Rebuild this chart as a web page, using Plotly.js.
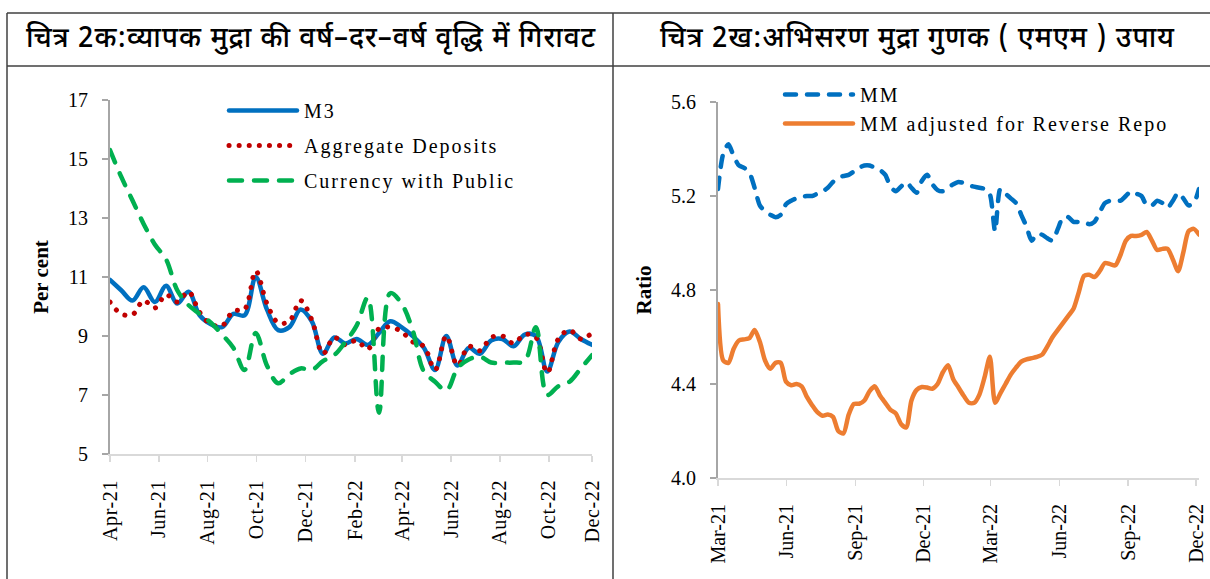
<!DOCTYPE html>
<html>
<head>
<meta charset="utf-8">
<script src="https://cdn.plot.ly/plotly-3.0.1.min.js"></script>
<style>
html,body{margin:0;padding:0;background:#fff;}
#chart{width:1210px;height:579px;}
.legendtext{letter-spacing:2px;}
.xtick text{letter-spacing:0.6px;}
.annotation-text{letter-spacing:1px;}
</style>
</head>
<body>
<div id="chart"></div>
<script>
// ---------- DATA ----------
const titleLeft = "चित्र 2क:व्यापक मुद्रा की वर्ष–दर–वर्ष वृद्धि में गिरावट";
const titleRight = "चित्र 2ख:अभिसरण मुद्रा गुणक ( एमएम ) उपाय";

// Left chart: fortnightly, from 2021-04-09
const leftStart = "2021-04-09";
const m3 = [10.9,10.55,10.2,10.65,10.15,10.7,10.1,10.5,9.7,9.4,9.3,9.75,9.7,11.0,9.9,9.2,9.3,9.9,9.5,8.4,8.95,8.75,8.9,8.7,9.1,9.5,9.3,9.0,8.6,7.85,9.0,8.0,8.6,8.4,8.85,8.9,8.65,9.05,9.0,7.8,8.8,9.15,8.9,8.7];
const aggDeposits = [10.15,9.75,9.72,10.2,9.95,10.4,10.15,10.5,9.8,9.4,9.35,9.85,9.9,11.2,10.1,9.45,9.5,10.2,9.55,8.4,8.95,8.7,8.85,8.55,9.25,9.3,9.15,8.8,8.65,7.85,9.0,8.0,8.65,8.5,8.95,9.0,8.75,9.05,8.95,7.75,8.9,9.2,8.9,9.1];
const currency = [15.3,14.4,13.6,12.8,12.1,11.6,10.55,10.05,9.75,9.45,9.05,8.6,7.85,9.1,8.0,7.4,7.7,7.9,7.85,8.15,8.35,8.8,9.35,10.3,6.4,10.45,10.1,9.2,7.8,7.45,7.15,7.9,8.2,8.3,8.1,8.1,8.1,8.15,9.3,7.0,7.3,7.45,7.9,8.35];
const leftTickLabels = ["Apr-21","Jun-21","Aug-21","Oct-21","Dec-21","Feb-22","Apr-22","Jun-22","Aug-22","Oct-22","Dec-22"];

// Right chart: weekly, from 2021-03-26
const rightStart = "2021-03-26";
const mm = [5.23,5.38,5.42,5.37,5.33,5.32,5.30,5.235,5.16,5.135,5.12,5.11,5.12,5.165,5.18,5.19,5.197,5.20,5.20,5.21,
  5.22,5.235,5.26,5.28,5.285,5.29,5.305,5.32,5.33,5.33,5.32,5.31,5.29,5.24,5.22,5.24,5.26,5.235,5.214,5.265,
  5.29,5.25,5.225,5.22,5.235,5.25,5.26,5.255,5.245,5.24,5.235,5.23,5.207,5.05,5.23,5.21,5.19,5.17,5.12,5.07,
  5.01,5.04,5.035,5.02,5.01,5.06,5.11,5.11,5.09,5.09,5.09,5.08,5.09,5.13,5.17,5.18,5.18,5.18,5.20,5.22,
  5.21,5.2,5.16,5.16,5.18,5.17,5.15,5.18,5.214,5.19,5.16,5.17,5.23];
const mmAdj = [4.74,4.50,4.49,4.55,4.585,4.59,4.595,4.63,4.58,4.50,4.465,4.49,4.49,4.41,4.395,4.40,4.39,4.345,4.31,4.28,
  4.265,4.27,4.26,4.20,4.19,4.27,4.315,4.316,4.33,4.37,4.39,4.35,4.32,4.29,4.275,4.23,4.215,4.33,4.375,4.387,
  4.385,4.38,4.40,4.45,4.48,4.42,4.385,4.35,4.32,4.32,4.355,4.43,4.516,4.32,4.36,4.40,4.44,4.47,4.495,4.505,
  4.51,4.515,4.525,4.56,4.60,4.63,4.66,4.69,4.72,4.79,4.86,4.865,4.855,4.88,4.915,4.91,4.905,4.95,5.01,5.03,
  5.03,5.035,5.047,5.01,4.97,4.975,4.975,4.93,4.88,4.96,5.05,5.06,5.036];
const rightTickLabels = ["Mar-21","Jun-21","Sep-21","Dec-21","Mar-22","Jun-22","Sep-22","Dec-22"];

// ---------- helpers ----------
function iso(d){ return d.toISOString().slice(0,10); }
function datesFrom(start, n, stepDays){
  const out=[]; const s=new Date(start+"T00:00:00Z");
  for(let i=0;i<n;i++){ const d=new Date(s.getTime()+i*stepDays*86400000); out.push(iso(d)); }
  return out;
}
function monthTicks(start, count, stepMonths, maxDate){
  const out=[]; const s=new Date(start+"T00:00:00Z");
  for(let k=0;k<count;k++){
    const d=new Date(Date.UTC(s.getUTCFullYear(), s.getUTCMonth()+k*stepMonths, s.getUTCDate()));
    let v=iso(d); if(v>maxDate) v=maxDate; out.push(v);
  }
  return out;
}

const xL = datesFrom(leftStart, m3.length, 14);
const xR = datesFrom(rightStart, mm.length, 7);
const tickValsL = monthTicks(leftStart, leftTickLabels.length, 2, xL[xL.length-1]);
const tickValsR = monthTicks(rightStart, rightTickLabels.length, 3, xR[xR.length-1]);

const W=1210, H=579;
const px = v => v/W, py = v => 1 - v/H;
const serif = "Liberation Serif, Times New Roman, serif";
const hindi = "Noto Sans Devanagari, Lohit Devanagari, Mangal, Noto Sans, sans-serif";

const traces = [
  {x:xL, y:m3, name:"M3", type:"scatter", mode:"lines", xaxis:"x", yaxis:"y",
   line:{color:"#0070C0", width:4.5, shape:"spline", smoothing:1}, legendgroup:"a", legend:"legend"},
  {x:xL, y:aggDeposits, name:"Aggregate Deposits", type:"scatter", mode:"lines", xaxis:"x", yaxis:"y",
   line:{color:"#C00000", width:5, shape:"spline", smoothing:1, dash:"0.1px,10px"}, legendgroup:"b", legend:"legend"},
  {x:xL, y:currency, name:"Currency with Public", type:"scatter", mode:"lines", xaxis:"x", yaxis:"y",
   line:{color:"#00B050", width:4.5, shape:"spline", smoothing:1, dash:"13px,12px"}, legendgroup:"c", legend:"legend"},
  {x:xR, y:mm, name:"MM", type:"scatter", mode:"lines", xaxis:"x2", yaxis:"y2",
   line:{color:"#0070C0", width:4.5, shape:"spline", smoothing:0.7, dash:"11px,11px"}, legendgroup:"d", legend:"legend2"},
  {x:xR, y:mmAdj, name:"MM adjusted for Reverse Repo", type:"scatter", mode:"lines", xaxis:"x2", yaxis:"y2",
   line:{color:"#ED7D31", width:4.5, shape:"spline", smoothing:0.7}, legendgroup:"e", legend:"legend2"}
];

const tickFont = {family:serif, size:20, color:"#000"};
const frame = "#404040";

const layout = {
  width:W, height:H, margin:{l:0,r:0,t:0,b:0},
  paper_bgcolor:"#fff", plot_bgcolor:"rgba(0,0,0,0)",
  showlegend:true,
  xaxis:{domain:[px(110),px(592)], type:"date", range:[xL[0], xL[xL.length-1]],
    tickvals:tickValsL, ticktext:leftTickLabels, tickangle:-90, tickfont:tickFont,
    showgrid:false, zeroline:false, showline:true, linecolor:"#d9d9d9", linewidth:2,
    ticks:"outside", ticklen:6, tickcolor:"#d9d9d9", tickwidth:1.5, ticklabelstandoff:10, anchor:"y", automargin:false},
  yaxis:{domain:[py(454),py(100)], range:[5,17], dtick:2, tick0:5, tickfont:tickFont,
    showgrid:false, zeroline:false, showline:true, linecolor:"#a6a6a6", linewidth:2,
    ticks:"outside", ticklen:6, tickcolor:"#a6a6a6", tickwidth:1.5, ticklabelstandoff:10, anchor:"x", automargin:false,
    title:{text:"<b>Per cent</b>", font:{family:serif, size:21, color:"#000"}, standoff:14}},
  xaxis2:{domain:[px(718),px(1199)], type:"date", range:[xR[0], xR[xR.length-1]],
    tickvals:tickValsR, ticktext:rightTickLabels, tickangle:-90, tickfont:tickFont,
    showgrid:false, zeroline:false, showline:true, linecolor:"#d9d9d9", linewidth:2,
    ticks:"outside", ticklen:6, tickcolor:"#d9d9d9", tickwidth:1.5, ticklabelstandoff:10, anchor:"y2", automargin:false},
  yaxis2:{domain:[py(478),py(102)], range:[4.0,5.6], dtick:0.4, tick0:4.0, tickformat:".1f", tickfont:tickFont,
    showgrid:false, zeroline:false, showline:true, linecolor:"#a6a6a6", linewidth:2,
    ticks:"outside", ticklen:6, tickcolor:"#a6a6a6", tickwidth:1.5, ticklabelstandoff:10, anchor:"x2", automargin:false,
    title:{text:"<b>Ratio</b>", font:{family:serif, size:21, color:"#000"}, standoff:14}},
  legend:{x:px(264), y:py(91), xanchor:"left", yanchor:"top", bgcolor:"rgba(0,0,0,0)", borderwidth:0,
    font:{family:serif, size:20, color:"#000"}, tracegroupgap:6, traceorder:"grouped"},
  legend2:{x:px(820), y:py(75), xanchor:"left", yanchor:"top", bgcolor:"rgba(0,0,0,0)", borderwidth:0,
    font:{family:serif, size:20, color:"#000"}, tracegroupgap:0, traceorder:"grouped"},
  annotations:[
    {text:titleLeft, xref:"paper", yref:"paper", x:px(311), y:py(40), xanchor:"center", yanchor:"middle", showarrow:false,
     font:{family:hindi, size:28, color:"#000", weight:500}},
    {text:titleRight, xref:"paper", yref:"paper", x:px(917), y:py(40), xanchor:"center", yanchor:"middle", showarrow:false,
     font:{family:hindi, size:28, color:"#000", weight:500}}
  ],
  shapes:[
    {type:"line", xref:"paper", yref:"paper", x0:px(7), x1:px(1210), y0:py(13), y1:py(13), line:{color:frame, width:1.5}},
    {type:"line", xref:"paper", yref:"paper", x0:px(7), x1:px(1210), y0:py(66), y1:py(66), line:{color:frame, width:1.5}},
    {type:"line", xref:"paper", yref:"paper", x0:px(7), x1:px(7), y0:py(13), y1:py(579), line:{color:frame, width:1.5}},
    {type:"line", xref:"paper", yref:"paper", x0:px(613), x1:px(613), y0:py(13), y1:py(579), line:{color:frame, width:1.5}}
  ]
};

Plotly.newPlot("chart", traces, layout, {displayModeBar:false, staticPlot:true}).then(function(){
  document.querySelectorAll(".scatterlayer .js-line").forEach(function(p){
    p.style.strokeLinecap = "round";
  });
  // legends: no clipping (letter-spaced text) and longer samples, like the original
  document.querySelectorAll('.infolayer g[class^="legend"]').forEach(function(g){
    g.querySelectorAll(".scrollbox").forEach(function(s){ s.removeAttribute("clip-path"); });
    g.querySelectorAll("text").forEach(function(t){ t.style.letterSpacing = "2px"; });
    g.querySelectorAll(".legendlines path").forEach(function(p){
      p.setAttribute("d", "M-35,0h68");
      p.style.strokeLinecap = "round";
    });
  });
});
</script>
</body>
</html>
